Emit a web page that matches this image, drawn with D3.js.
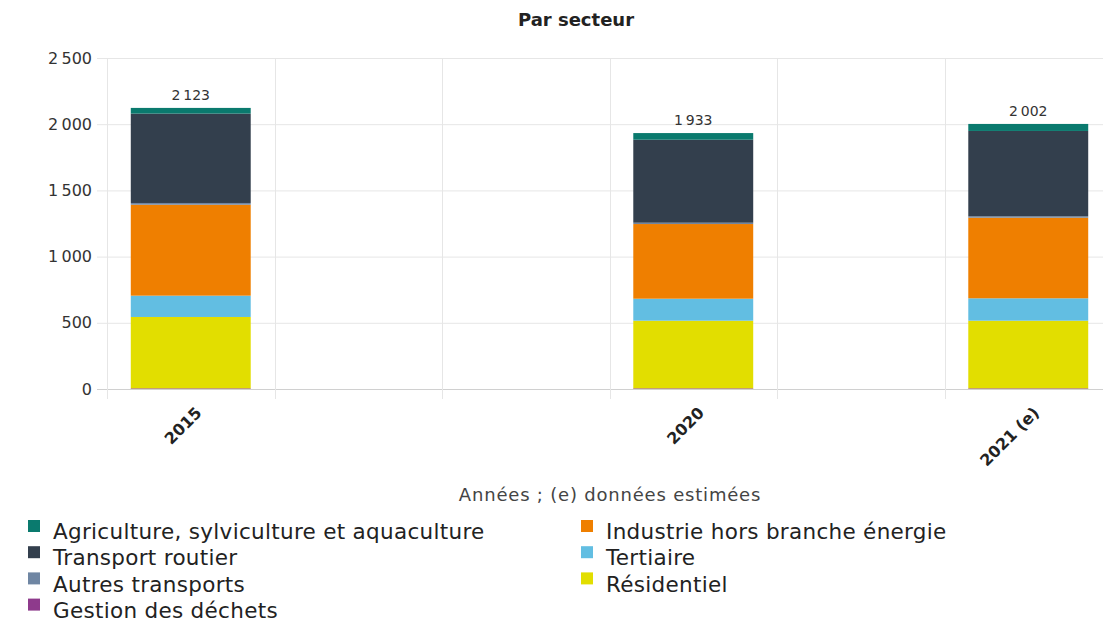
<!DOCTYPE html>
<html>
<head>
<meta charset="utf-8">
<script src="https://cdn.jsdelivr.net/npm/d3@7"></script>
<style>
  body { margin: 0; background: #fff; }
  svg { display: block; font-family: "DejaVu Sans", sans-serif; }
</style>
</head>
<body>
<div id="chart"></div>
<script>
// categories on the x axis (empty slots have no data)
var categories = ["2015", "", "", "2020", "", "2021 (e)"];

// series, bottom to top of the stack
var dechets     = [5,   null, null, 5,   null, 5];
var residentiel = [539, null, null, 511, null, 511];
var tertiaire   = [161, null, null, 166, null, 169];
var industrie   = [687, null, null, 564, null, 609];
var autresTr    = [13,  null, null, 10,  null, 10];
var transportR  = [675, null, null, 627, null, 645];
var agriculture = [43,  null, null, 50,  null, 53];

var yTicks = [0, 500, 1000, 1500, 2000, 2500];

var series = [
    {name: "Gestion des déchets", values: dechets, color: "#8e3a8c"},
    {name: "Résidentiel", values: residentiel, color: "#e2de00"},
    {name: "Tertiaire", values: tertiaire, color: "#62bee2"},
    {name: "Industrie hors branche énergie", values: industrie, color: "#ef7f00"},
    {name: "Autres transports", values: autresTr, color: "#6f86a3"},
    {name: "Transport routier", values: transportR, color: "#333f4d"},
    {name: "Agriculture, sylviculture et aquaculture", values: agriculture, color: "#0a7a6e"}
];

var legendLeft = ["Agriculture, sylviculture et aquaculture", "Transport routier", "Autres transports", "Gestion des déchets"];
var legendRight = ["Industrie hors branche énergie", "Tertiaire", "Résidentiel"];

var width = 1103, height = 625;
var fr = d3.formatLocale({decimal: ",", thousands: "\u202f", grouping: [3], currency: ["", " €"]});
var fmt = fr.format(",d");

var svg = d3.select("#chart").append("svg")
    .attr("width", width)
    .attr("height", height);

var x = d3.scaleBand()
    .domain(d3.range(categories.length))
    .range([107, 1112])
    .padding(0);

var y = d3.scaleLinear()
    .domain([0, 2500])
    .range([389, 58]);

// horizontal gridlines
svg.append("g")
    .selectAll("line")
    .data(yTicks)
    .enter()
    .append("line")
    .attr("x1", 97)
    .attr("x2", 1112)
    .attr("y1", function(d) { return y(d) + 0.5; })
    .attr("y2", function(d) { return y(d) + 0.5; })
    .attr("stroke", function(d) { return d === 0 ? "#d0d0d0" : "#e6e6e6"; })
    .attr("stroke-width", 1);

// vertical gridlines at band edges
svg.append("g")
    .selectAll("line")
    .data(d3.range(categories.length))
    .enter()
    .append("line")
    .attr("x1", function(d) { return Math.round(x(d)) + 0.5; })
    .attr("x2", function(d) { return Math.round(x(d)) + 0.5; })
    .attr("y1", 58)
    .attr("y2", 399)
    .attr("stroke", "#e6e6e6");

// y axis labels
svg.append("g")
    .selectAll("text")
    .data(yTicks)
    .enter()
    .append("text")
    .attr("x", 92)
    .attr("y", function(d) { return y(d); })
    .attr("dy", "0.35em")
    .attr("text-anchor", "end")
    .attr("font-size", 16)
    .attr("fill", "#333")
    .text(function(d) { return fmt(d); });

// stacked bars
var rows = d3.range(categories.length).map(function(i) {
    var r = {i: i};
    series.forEach(function(s) { r[s.name] = s.values[i] || 0; });
    return r;
});
var stack = d3.stack().keys(series.map(function(s) { return s.name; }));
var stacked = stack(rows);

var barW = x.bandwidth() * 0.716;
var off = (x.bandwidth() - barW) / 2;

svg.append("g")
    .selectAll("g")
    .data(stacked)
    .enter()
    .append("g")
    .attr("fill", function(d, k) { return series[k].color; })
    .selectAll("rect")
    .data(function(d) { return d.filter(function(p) { return p[1] - p[0] > 0; }); })
    .enter()
    .append("rect")
    .attr("x", function(p) { return x(p.data.i) + off; })
    .attr("width", barW)
    .attr("y", function(p) { return y(p[1]); })
    .attr("height", function(p) { return y(p[0]) - y(p[1]); });

// totals
var totals = rows.map(function(r) {
    return {i: r.i, total: d3.sum(series, function(s) { return r[s.name]; })};
}).filter(function(t) { return t.total > 0; });

svg.append("g")
    .selectAll("text")
    .data(totals)
    .enter()
    .append("text")
    .attr("x", function(t) { return x(t.i) + x.bandwidth() / 2; })
    .attr("y", function(t) { return y(t.total) - 8; })
    .attr("text-anchor", "middle")
    .attr("font-size", 14)
    .attr("fill", "#333")
    .text(function(t) { return fmt(t.total); });

// x tick labels
svg.append("g")
    .selectAll("text")
    .data(d3.range(categories.length).filter(function(i) { return categories[i] !== ""; }))
    .enter()
    .append("text")
    .attr("transform", function(i) {
        return "translate(" + (x(i) + x.bandwidth() / 2 + 4) + ",406) rotate(-45)";
    })
    .attr("text-anchor", "end")
    .attr("dy", "0.7em")
    .attr("font-size", 16)
    .attr("font-weight", "bold")
    .attr("fill", "#222")
    .text(function(i) { return categories[i]; });

// title
svg.append("text")
    .attr("x", 576)
    .attr("y", 26)
    .attr("text-anchor", "middle")
    .attr("font-size", 18)
    .attr("font-weight", "bold")
    .attr("fill", "#222")
    .text("Par secteur");

// x axis title
svg.append("text")
    .attr("x", 610)
    .attr("y", 501)
    .attr("text-anchor", "middle")
    .attr("font-size", 18)
    .attr("letter-spacing", 0.8)
    .attr("fill", "#444")
    .text("Années ; (e) données estimées");

// legend
function colorOf(name) {
    return series.filter(function(s) { return s.name === name; })[0].color;
}
function legendCol(names, x0) {
    var g = svg.append("g");
    var item = g.selectAll("g")
        .data(names)
        .enter()
        .append("g")
        .attr("transform", function(d, k) { return "translate(" + x0 + "," + (532 + k * 26.2) + ")"; });
    item.append("rect")
        .attr("x", 0)
        .attr("y", -12)
        .attr("width", 12)
        .attr("height", 12)
        .attr("fill", colorOf);
    item.append("text")
        .attr("x", 25)
        .attr("y", 0)
        .attr("dy", "0.33em")
        .attr("font-size", 21.5)
        .attr("letter-spacing", 0.3)
        .attr("fill", "#222")
        .text(function(d) { return d; });
}
legendCol(legendLeft, 28);
legendCol(legendRight, 581);
</script>
</body>
</html>
